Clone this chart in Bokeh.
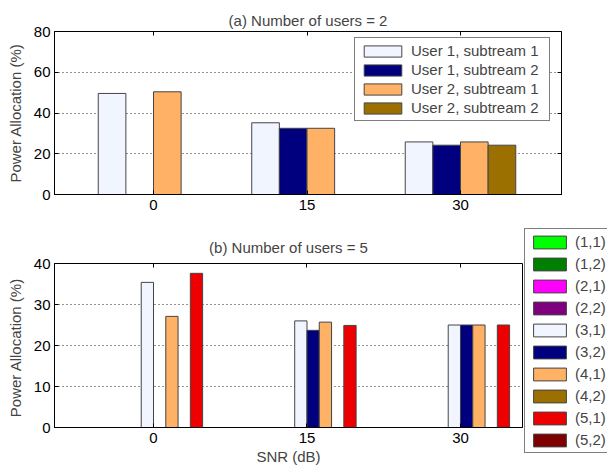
from bokeh.plotting import figure
from bokeh.models import (ColumnDataSource, Legend, LegendItem, LinearAxis, FixedTicker, Range1d, Title)
from bokeh.layouts import column, row
from bokeh.transform import dodge
from bokeh.embed import file_html
from bokeh.resources import INLINE

FONT = "Liberation Sans"

snr = ["0", "15", "30"]

# (a) Number of users = 2
top_labels = ["User 1, subtream 1", "User 1, subtream 2", "User 2, subtream 1", "User 2, subtream 2"]
u1s1 = [49.6, 35.2, 25.8]
u1s2 = [0.0, 32.5, 24.2]
u2s1 = [50.4, 32.5, 25.8]
u2s2 = [0.0, 0.0, 24.2]
top_series = [u1s1, u1s2, u2s1, u2s2]
top_colors = ["#F0F5FF", "#00007F", "#FFB266", "#9C7000"]

# (b) Number of users = 5
bot_labels = ["(1,1)", "(1,2)", "(2,1)", "(2,2)", "(3,1)", "(3,2)", "(4,1)", "(4,2)", "(5,1)", "(5,2)"]
s11 = [0.0, 0.0, 0.0]
s12 = [0.0, 0.0, 0.0]
s21 = [0.0, 0.0, 0.0]
s22 = [0.0, 0.0, 0.0]
s31 = [35.4, 26.0, 25.0]
s32 = [0.0, 23.7, 25.0]
s41 = [27.1, 25.7, 25.0]
s42 = [0.0, 0.0, 0.0]
s51 = [37.6, 24.9, 25.0]
s52 = [0.0, 0.0, 0.0]
bot_series = [s11, s12, s21, s22, s31, s32, s41, s42, s51, s52]
bot_colors = ["#00FF00", "#007F00", "#FF00FF", "#7F007F", "#F0F5FF",
              "#00007F", "#FFB266", "#9C7000", "#EE0000", "#7F0000"]

xpos = list(range(len(snr)))
xlabels = {i: s for i, s in enumerate(snr)}

W = 607


def mirror_axis(ticks):
    return LinearAxis(ticker=FixedTicker(ticks=ticks),
                      major_label_overrides={t: "" for t in ticks},
                      major_label_text_font_size="1px", major_tick_in=4, major_tick_out=0,
                      minor_tick_in=0, minor_tick_out=0, major_label_standoff=0,
                      axis_line_color=None, major_tick_line_color="black")


def style(p, yticks, ylabel, title, right_axis=True):
    p.title.text = title
    p.title.align = "center"
    p.title.text_font = FONT
    p.title.text_font_size = "15px"
    p.title.text_font_style = "normal"
    p.title.standoff = 5
    p.outline_line_color = "black"
    p.outline_line_width = 1
    p.xgrid.grid_line_color = None
    p.ygrid.grid_line_color = "#000000"
    p.ygrid.grid_line_dash = "1 3"
    p.ygrid.grid_line_alpha = 0.85
    p.yaxis.ticker = FixedTicker(ticks=yticks)
    p.xaxis.ticker = FixedTicker(ticks=xpos)
    p.xaxis.major_label_overrides = xlabels
    p.yaxis.axis_label = ylabel
    for ax in p.xaxis + p.yaxis:
        ax.major_label_text_font = FONT
        ax.major_label_text_font_size = "15px"
        ax.axis_label_text_font = FONT
        ax.axis_label_text_font_size = "15px"
        ax.axis_label_text_font_style = "normal"
        ax.major_tick_in = 4
        ax.major_tick_out = 0
        ax.minor_tick_in = 0
        ax.minor_tick_out = 0
        ax.axis_line_color = "black"
        ax.major_tick_line_color = "black"
        ax.major_label_text_color = "black"
    p.yaxis.major_label_standoff = 4
    p.yaxis.axis_label_standoff = 7
    p.xaxis.major_label_standoff = 5
    if right_axis:
        p.add_layout(mirror_axis(yticks), "right")
    p.add_layout(mirror_axis(xpos), "above")


# ---------- top figure ----------
p1 = figure(width=W, height=220, x_range=Range1d(-0.645, 2.658), y_range=Range1d(0, 80),
            output_backend="svg", toolbar_location=None,
            min_border_left=54, min_border_right=W - 561, min_border_top=31, min_border_bottom=26)
style(p1, [0, 20, 40, 60, 80], "Power Allocation (%)", "(a) Number of users = 2")

src1 = ColumnDataSource(dict(x=xpos, **{f"s{i}": v for i, v in enumerate(top_series)}))
w1 = 0.18
items1 = []
for i, (lab, col) in enumerate(zip(top_labels, top_colors)):
    off = (i - 1.5) * w1
    r = p1.vbar(x=dodge("x", off), top=f"s{i}", width=w1, source=src1,
                fill_color=col, line_color="#444444", line_width=1)
    items1.append(LegendItem(label=lab, renderers=[r]))

leg1 = Legend(items=items1, location=(300, 73), label_text_font=FONT, label_text_font_size="15px",
              glyph_width=47, glyph_height=14, label_height=14, label_width=134, spacing=2, padding=4,
              label_standoff=5, border_line_color="black", border_line_width=1,
              background_fill_alpha=1, margin=0)
p1.add_layout(leg1, "center")

# ---------- bottom figure ----------
p2 = figure(width=523, height=250, x_range=Range1d(-0.645, 2.404), y_range=Range1d(0, 40),
            output_backend="svg", toolbar_location=None,
            min_border_left=54, min_border_right=1, min_border_top=43, min_border_bottom=43)
style(p2, [0, 10, 20, 30, 40], "Power Allocation  (%)", "(b) Number of users = 5", right_axis=False)
p2.title.offset = 19
p2.title.standoff = 15
p2.xaxis.major_label_standoff = 5
p2.add_layout(Title(text="SNR (dB)", align="center", offset=19, text_font=FONT,
                    text_font_size="15px", text_font_style="normal", standoff=0), "below")

src2 = ColumnDataSource(dict(x=xpos, **{f"s{i}": v for i, v in enumerate(bot_series)}))
w2 = 0.08
for i, col in enumerate(bot_colors):
    off = (i - 4.5) * w2
    p2.vbar(x=dodge("x", off), top=f"s{i}", width=w2, source=src2,
            fill_color=col, line_color="#444444", line_width=1)

# legend panel to the right of the bottom chart (proxy renderers lie outside its view)
pl = figure(width=W - 523, height=250, x_range=Range1d(100, 101), y_range=Range1d(100, 101),
            output_backend="svg", toolbar_location=None, x_axis_location=None,
            y_axis_location=None, min_border=0, min_border_left=0, min_border_right=0,
            min_border_top=0, min_border_bottom=0, outline_line_color=None)
pl.title.visible = False
pl.grid.visible = False
items2 = []
for i, (lab, col) in enumerate(zip(bot_labels, bot_colors)):
    r = pl.vbar(x="x", top=f"s{i}", width=w2, source=src2, fill_color=col,
                line_color="#444444", line_width=1)
    items2.append(LegendItem(label=lab, renderers=[r]))
leg2 = Legend(items=items2, location=(1, 17), label_text_font=FONT, label_text_font_size="15px",
              glyph_width=41, glyph_height=16, label_height=16, label_width=48, spacing=5, padding=4,
              label_standoff=5, border_line_color="black", border_line_width=1,
              background_fill_alpha=1, margin=0)
pl.add_layout(leg2, "center")

layout = column(p1, row(p2, column(pl, spacing=0), spacing=0), spacing=0)
open("out.html", "w").write(file_html(layout, INLINE))
